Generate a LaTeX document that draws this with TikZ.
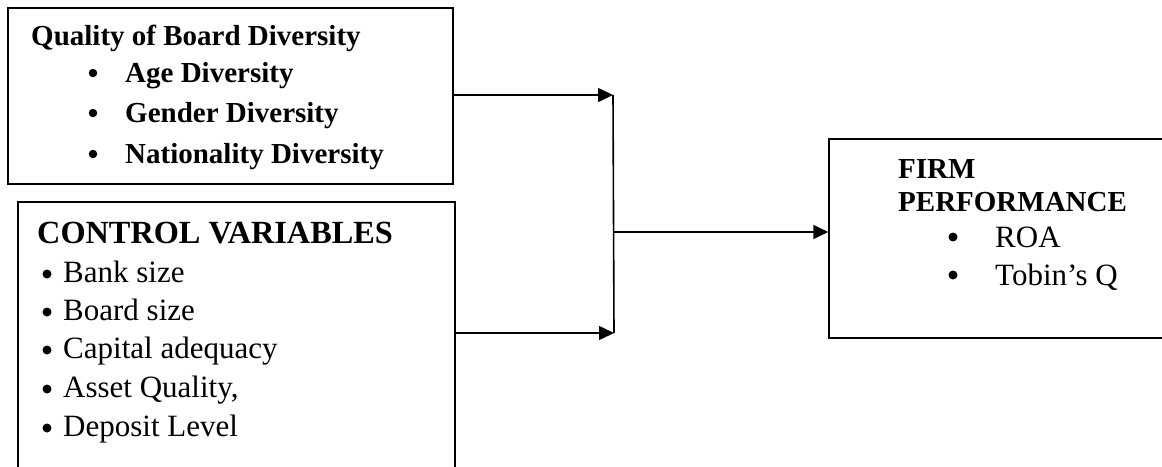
\documentclass[tikz,border=0pt]{standalone}
\usepackage{fontspec}
\setmainfont{Liberation Serif}
\usetikzlibrary{arrows.meta}
\begin{document}
\begin{tikzpicture}[x=1pt,y=-1pt,
  box/.style={draw, line width=1.5pt, inner sep=0pt, rectangle},
  arr/.style={line width=1.6pt, -{Triangle[length=15pt,width=14pt]}},
  conn/.style={line width=1.6pt},
  bft/.style={font=\fontsize{29}{34}\selectfont\bfseries, anchor=base west, inner sep=0pt},
  bfc/.style={font=\fontsize{32.3}{36}\selectfont\bfseries, anchor=base west, inner sep=0pt},
  rmt/.style={font=\fontsize{31}{36}\selectfont, anchor=base west, inner sep=0pt},
  bul/.style={circle, fill, inner sep=0pt, minimum size=9pt}]
\useasboundingbox (0,0) rectangle (1162,466);
\clip (0,0) rectangle (1162,466);
% boxes
\node[box, minimum width=445pt, minimum height=176pt] (b1) at (230.5,96) {};
\node[box, minimum width=437pt, minimum height=288pt] (b2) at (236.5,346) {};
\node[box, minimum width=361pt, minimum height=199pt] (b3) at (1009.5,238.5) {};
% box 1 text
\node[bft] (t1) at (31,45) {Quality of Board Diversity};
\node[bul, minimum size=8.5pt] (u11) at (93,73) {};
\node[bft] (t11) at (125,82) {Age Diversity};
\node[bul, minimum size=8.5pt] (u12) at (93,113) {};
\node[bft] (t12) at (125,122) {Gender Diversity};
\node[bul, minimum size=8.5pt] (u13) at (93,154) {};
\node[bft] (t13) at (125,163) {Nationality Diversity};
% box 2 text
\node[bfc] (t2) at (37,243) {CONTROL VARIABLES};
\node[bul] (u21) at (47,274) {};
\node[rmt] (t21) at (63,282) {Bank size};
\node[bul] (u22) at (47,312) {};
\node[rmt] (t22) at (63,320) {Board size};
\node[bul] (u23) at (47,350) {};
\node[rmt] (t23) at (63,358) {Capital adequacy};
\node[bul] (u24) at (47,389) {};
\node[rmt] (t24) at (63,397) {Asset Quality,};
\node[bul] (u25) at (47,428) {};
\node[rmt] (t25) at (63,436) {Deposit Level};
% box 3 text
\node[bft] (t3a) at (898,178) {FIRM};
\node[bft] (t3b) at (898,211) {PERFORMANCE};
\node[bul] (u31) at (953,237) {};
\node[rmt] (t31) at (995,247) {ROA};
\node[bul] (u32) at (953,275) {};
\node[rmt] (t32) at (995,285) {Tobin’s Q};
% connectors
\coordinate (j1) at (613,95);
\coordinate (j2) at (614,333);
\coordinate (jm) at (613.5,232);
\draw[arr] (b1.east |- j1) -- (j1);
\draw[arr] (b2.east |- j2) -- (j2);
\draw[conn] (j1) -- (j2);
\draw[arr] (jm) -- (b3.west |- jm);
\end{tikzpicture}
\end{document}
